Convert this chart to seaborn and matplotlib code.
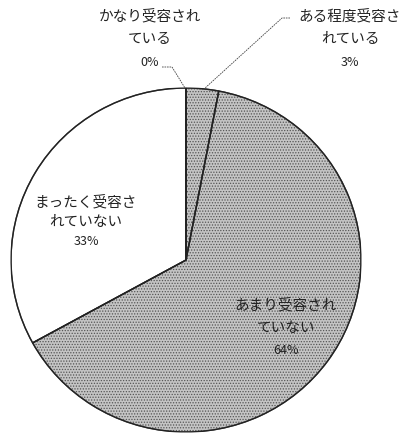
import matplotlib
matplotlib.use("Agg")
import matplotlib.pyplot as plt
from matplotlib.patches import Wedge
import seaborn as sns

# answer categories and shares (%), clockwise from 12 o'clock
categories = ["かなり受容され\nている", "ある程度受容さ\nれている", "あまり受容され\nていない", "まったく受容さ\nれていない"]
shares = [0, 3, 64, 33]
fill_colors = ["#c4c4c4", "#c4c4c4", "#c4c4c4", "#ffffff"]

sns.set_theme(style="white")
plt.rcParams["font.family"] = ["Noto Sans CJK JP", "DejaVu Sans"]
plt.rcParams["hatch.linewidth"] = 0.6

W, H = 405, 435
fig = plt.figure(figsize=(W / 100, H / 100), dpi=100)
# pie centre ~(186, 261) px, radius ~173 px
cx, cy, rx, ry = 186, 261, 175, 172
ax = fig.add_axes([(cx - rx) / W, (H - cy - ry) / H, 2 * rx / W, 2 * ry / H])

wedges, _ = ax.pie(shares, colors=fill_colors, startangle=90, counterclock=False,
                   wedgeprops=dict(edgecolor="#555555", linewidth=1.0))
for w, c in zip(wedges, fill_colors):
    if c != "#ffffff":
        w.set_hatch("......")
# dark outlines on top of the hatching
for w in wedges:
    ax.add_patch(Wedge(w.center, w.r, w.theta1, w.theta2,
                       fill=False, edgecolor="#222222", linewidth=1.0))
ax.set_aspect("auto")
ax.set_xlim(-1, 1)
ax.set_ylim(-1, 1)
ax.axis("off")


def px(x, y):
    return ((x - cx) / rx, (cy - y) / ry)


# label anchor (x centre, y of first line) and line step, in pixels
label_pos = [(150, 16, 23), (350, 16, 23), (286, 305, 23), (86, 202, 20)]
for cat, s, (lx, ly, step) in zip(categories, shares, label_pos):
    lines = cat.split("\n")
    for i, ln in enumerate(lines):
        ax.text(*px(lx, ly + i * step), ln, ha="center", va="center",
                fontsize=10.5, color="#222222", clip_on=False)
    ax.text(*px(lx, ly + len(lines) * step), f"{s}%", ha="center", va="center",
            fontsize=9, color="#222222", clip_on=False)

# leader lines for the small slices
lead = dict(color="#444444", lw=0.6, ls=(0, (2, 1)), clip_on=False)
pts = [px(162, 68), px(172, 68), px(185, 89)]
ax.plot([p[0] for p in pts], [p[1] for p in pts], **lead)
pts = [px(290, 19), px(282, 19), px(204, 90)]
ax.plot([p[0] for p in pts], [p[1] for p in pts], **lead)

fig.savefig("out.png", dpi=100, facecolor="white")
